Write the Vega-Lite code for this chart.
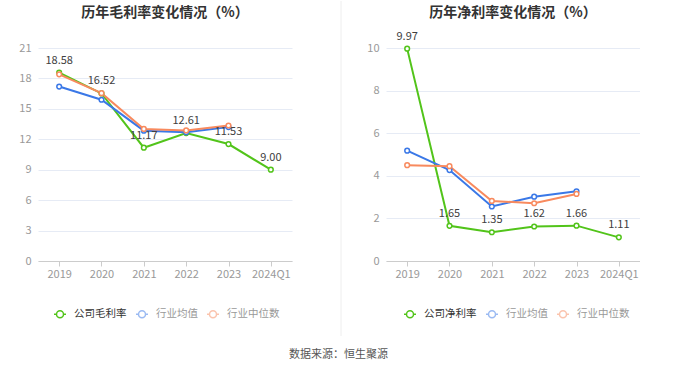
{
  "$schema": "https://vega.github.io/schema/vega-lite/v6.json",
  "background": "white",
  "padding": {"left": 18, "top": 0, "right": 0, "bottom": 0},
  "datasets": {
    "gross": [
      {"year": "2019", "series": "公司毛利率", "value": 18.58},
      {"year": "2020", "series": "公司毛利率", "value": 16.52},
      {"year": "2021", "series": "公司毛利率", "value": 11.17},
      {"year": "2022", "series": "公司毛利率", "value": 12.61},
      {"year": "2023", "series": "公司毛利率", "value": 11.53},
      {"year": "2024Q1", "series": "公司毛利率", "value": 9.00},
      {"year": "2019", "series": "行业均值", "value": 17.2},
      {"year": "2020", "series": "行业均值", "value": 15.9},
      {"year": "2021", "series": "行业均值", "value": 12.85},
      {"year": "2022", "series": "行业均值", "value": 12.7},
      {"year": "2023", "series": "行业均值", "value": 13.2},
      {"year": "2019", "series": "行业中位数", "value": 18.4},
      {"year": "2020", "series": "行业中位数", "value": 16.55},
      {"year": "2021", "series": "行业中位数", "value": 13.02},
      {"year": "2022", "series": "行业中位数", "value": 12.87},
      {"year": "2023", "series": "行业中位数", "value": 13.36}
    ],
    "net": [
      {"year": "2019", "series": "公司净利率", "value": 9.97},
      {"year": "2020", "series": "公司净利率", "value": 1.65},
      {"year": "2021", "series": "公司净利率", "value": 1.35},
      {"year": "2022", "series": "公司净利率", "value": 1.62},
      {"year": "2023", "series": "公司净利率", "value": 1.66},
      {"year": "2024Q1", "series": "公司净利率", "value": 1.11},
      {"year": "2019", "series": "行业均值", "value": 5.18},
      {"year": "2020", "series": "行业均值", "value": 4.27},
      {"year": "2021", "series": "行业均值", "value": 2.56},
      {"year": "2022", "series": "行业均值", "value": 3.02},
      {"year": "2023", "series": "行业均值", "value": 3.27},
      {"year": "2019", "series": "行业中位数", "value": 4.5},
      {"year": "2020", "series": "行业中位数", "value": 4.45},
      {"year": "2021", "series": "行业中位数", "value": 2.82},
      {"year": "2022", "series": "行业中位数", "value": 2.71},
      {"year": "2023", "series": "行业中位数", "value": 3.15}
    ]
  },
  "title": {"text": "数据来源：恒生聚源", "orient": "bottom", "anchor": "middle", "fontSize": 11, "fontWeight": "normal", "color": "#555555", "offset": 12, "dx": 9},
  "spacing": 10,
  "resolve": {"scale": {"color": "independent", "x": "independent", "y": "independent"}, "legend": {"color": "independent"}},
  "hconcat": [
    {
      "width": 254,
      "height": 213,
      "title": {"text": "历年毛利率变化情况（%）", "fontSize": 14, "fontWeight": "bold", "color": "#333333", "offset": 22, "anchor": "middle"},
      "data": {"name": "gross"},
      "encoding": {
        "x": {"field": "year", "type": "ordinal", "scale": {"type": "point", "padding": 0.5}, "axis": {"title": null, "labelAngle": 0, "labelColor": "#999999", "labelFontSize": 11, "domainColor": "#cccccc", "tickColor": "#cccccc", "tickSize": 5, "labelPadding": 2, "grid": false}},
        "y": {"field": "value", "type": "quantitative", "scale": {"domain": [0, 21], "nice": false}, "axis": {"title": null, "values": [0, 3, 6, 9, 12, 15, 18, 21], "domain": false, "ticks": false, "labelColor": "#999999", "labelFontSize": 11, "labelPadding": 7, "gridColor": "#e6ebf5"}},
        "color": {"field": "series", "type": "nominal", "sort": ["公司毛利率", "行业均值", "行业中位数"], "scale": {"domain": ["公司毛利率", "行业均值", "行业中位数"], "range": ["#52c41a", "#3a78e7", "#f88a5e"]},
          "legend": {"orient": "none", "legendX": 16, "legendY": 260, "direction": "horizontal", "title": null, "symbolType": "M-1.2,0L-0.7,0M0.7,0L1.2,0M0.7,0A0.7,0.7,0,1,1,-0.7,0A0.7,0.7,0,1,1,0.7,0Z", "symbolSize": 100, "symbolStrokeWidth": 1.5, "labelFontSize": 10.5, "labelOffset": 8, "columnPadding": 6,
            "encode": {"labels": {"update": {"fill": {"signal": "datum.value == '公司毛利率' ? '#333333' : '#999999'"}}}, "symbols": {"update": {"opacity": {"signal": "datum.value == '公司毛利率' ? 1 : 0.5"}, "fill": {"value": "white"}}}}}}
      },
      "layer": [
        {"mark": {"type": "line", "strokeWidth": 2}},
        {"mark": {"type": "point", "filled": false, "fill": "white", "size": 22, "strokeWidth": 1.5, "opacity": 1}},
        {"transform": [{"filter": "datum.series == '公司毛利率'"}], "mark": {"type": "text", "dy": -12, "fontSize": 11}, "encoding": {"text": {"field": "value", "type": "quantitative", "format": ".2f"}, "color": {"value": "#404040"}}}
      ]
    },
    {
      "width": 54,
      "height": 213,
      "data": {"values": [{}]},
      "mark": {"type": "rule", "color": "#eeeeee", "strokeWidth": 1},
      "encoding": {
        "x": {"datum": 39, "type": "quantitative", "scale": {"domain": [0, 54], "nice": false, "zero": false}, "axis": null},
        "y": {"datum": 260, "type": "quantitative", "scale": {"domain": [0, 213], "nice": false, "zero": false}, "axis": null},
        "y2": {"datum": -75}
      }
    },
    {
      "width": 254,
      "height": 213,
      "title": {"text": "历年净利率变化情况（%）", "fontSize": 14, "fontWeight": "bold", "color": "#333333", "offset": 11, "anchor": "middle"},
      "data": {"name": "net"},
      "encoding": {
        "x": {"field": "year", "type": "ordinal", "scale": {"type": "point", "padding": 0.5}, "axis": {"title": null, "labelAngle": 0, "labelColor": "#999999", "labelFontSize": 11, "domainColor": "#cccccc", "tickColor": "#cccccc", "tickSize": 5, "labelPadding": 2, "grid": false}},
        "y": {"field": "value", "type": "quantitative", "scale": {"domain": [0, 10], "nice": false}, "axis": {"title": null, "values": [0, 2, 4, 6, 8, 10], "domain": false, "ticks": false, "labelColor": "#999999", "labelFontSize": 11, "labelPadding": 7, "gridColor": "#e6ebf5"}},
        "color": {"field": "series", "type": "nominal", "sort": ["公司净利率", "行业均值", "行业中位数"], "scale": {"domain": ["公司净利率", "行业均值", "行业中位数"], "range": ["#52c41a", "#3a78e7", "#f88a5e"]},
          "legend": {"orient": "none", "legendX": 18, "legendY": 260, "direction": "horizontal", "title": null, "symbolType": "M-1.2,0L-0.7,0M0.7,0L1.2,0M0.7,0A0.7,0.7,0,1,1,-0.7,0A0.7,0.7,0,1,1,0.7,0Z", "symbolSize": 100, "symbolStrokeWidth": 1.5, "labelFontSize": 10.5, "labelOffset": 8, "columnPadding": 6,
            "encode": {"labels": {"update": {"fill": {"signal": "datum.value == '公司净利率' ? '#333333' : '#999999'"}}}, "symbols": {"update": {"opacity": {"signal": "datum.value == '公司净利率' ? 1 : 0.5"}, "fill": {"value": "white"}}}}}}
      },
      "layer": [
        {"mark": {"type": "line", "strokeWidth": 2}},
        {"mark": {"type": "point", "filled": false, "fill": "white", "size": 22, "strokeWidth": 1.5, "opacity": 1}},
        {"transform": [{"filter": "datum.series == '公司净利率'"}], "mark": {"type": "text", "dy": -12, "fontSize": 11}, "encoding": {"text": {"field": "value", "type": "quantitative", "format": ".2f"}, "color": {"value": "#404040"}}}
      ]
    }
  ],
  "config": {
    "font": "Noto Sans CJK SC",
    "view": {"stroke": null},
    "axis": {"minExtent": 0},
    "axisY": {"minExtent": 0},
    "axisX": {"minExtent": 0}
  }
}
